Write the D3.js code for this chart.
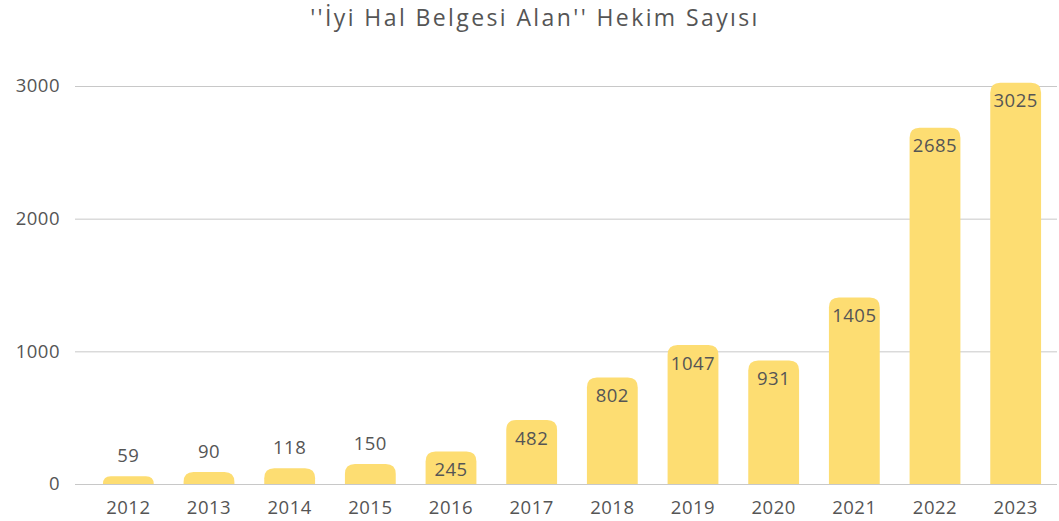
<!DOCTYPE html>
<html>
<head>
<meta charset="utf-8">
<script src="https://cdn.jsdelivr.net/npm/d3@7"></script>
<style>
  body { margin: 0; background: #fff; }
  text { font-family: "Open Sans", "Noto Sans", sans-serif; fill: #555; }
</style>
</head>
<body>
<div id="chart"></div>
<script>
// Chart data
var years = ["2012", "2013", "2014", "2015", "2016", "2017", "2018", "2019", "2020", "2021", "2022", "2023"];
var counts = [59, 90, 118, 150, 245, 482, 802, 1047, 931, 1405, 2685, 3025];
var yTicks = [0, 1000, 2000, 3000];
var chartTitle = "''İyi Hal Belgesi Alan'' Hekim Sayısı";

var svgWidth = 1059;
var svgHeight = 521;

var svg = d3.select("#chart")
  .append("svg")
  .attr("width", svgWidth)
  .attr("height", svgHeight);

var data = years.map((y, i) => ({ year: y, value: counts[i] }));

var xBandScale = d3.scaleBand()
  .domain(years)
  .range([88, 1056])
  .paddingInner(0.37)
  .paddingOuter(0.185);

var yLinearScale = d3.scaleLinear()
  .domain([0, 3000])
  .range([484, 86]);

// gridlines + y labels
var grid = svg.append("g");
grid.selectAll("line")
  .data(yTicks)
  .enter()
  .append("line")
  .attr("x1", 75)
  .attr("x2", 1057)
  .attr("y1", d => yLinearScale(d) + 0.5)
  .attr("y2", d => yLinearScale(d) + 0.5)
  .attr("stroke", "#c8c8c8")
  .attr("stroke-width", 1);

grid.selectAll("text")
  .data(yTicks)
  .enter()
  .append("text")
  .attr("x", 60)
  .attr("y", d => yLinearScale(d))
  .attr("dy", "0.35em")
  .attr("text-anchor", "end")
  .style("font-size", "18.5px")
  .style("letter-spacing", "0.5px")
  .text(d => d);

// bars with rounded top corners
function barPath(d) {
  var x = xBandScale(d.year);
  var w = xBandScale.bandwidth();
  var y0 = yLinearScale(0);
  var y1 = yLinearScale(d.value);
  var h = y0 - y1;
  var r = Math.min(10, h, w / 2);
  return `M${x},${y0} L${x},${y1 + r} Q${x},${y1} ${x + r},${y1} ` +
    `L${x + w - r},${y1} Q${x + w},${y1} ${x + w},${y1 + r} L${x + w},${y0} Z`;
}

svg.append("g")
  .selectAll("path")
  .data(data)
  .enter()
  .append("path")
  .attr("d", barPath)
  .attr("fill", "#fddd72");

// value labels: small values sit above the bar, the rest inside
svg.append("g")
  .selectAll("text")
  .data(data)
  .enter()
  .append("text")
  .attr("x", d => xBandScale(d.year) + xBandScale.bandwidth() / 2)
  .attr("y", d => d.value < 200 ? yLinearScale(d.value) - 21 : yLinearScale(d.value) + 18)
  .attr("dy", "0.35em")
  .attr("text-anchor", "middle")
  .style("font-size", "18.5px")
  .style("letter-spacing", "0.5px")
  .text(d => d.value);

// x axis labels
svg.append("g")
  .selectAll("text")
  .data(years)
  .enter()
  .append("text")
  .attr("x", d => xBandScale(d) + xBandScale.bandwidth() / 2)
  .attr("y", 508)
  .attr("dy", "0.35em")
  .attr("text-anchor", "middle")
  .style("font-size", "18.5px")
  .style("letter-spacing", "0.5px")
  .text(d => d);

// title
svg.append("text")
  .attr("x", 535)
  .attr("y", 18)
  .attr("dy", "0.35em")
  .attr("text-anchor", "middle")
  .style("font-size", "23px")
  .style("letter-spacing", "2.4px")
  .text(chartTitle);
</script>
</body>
</html>
